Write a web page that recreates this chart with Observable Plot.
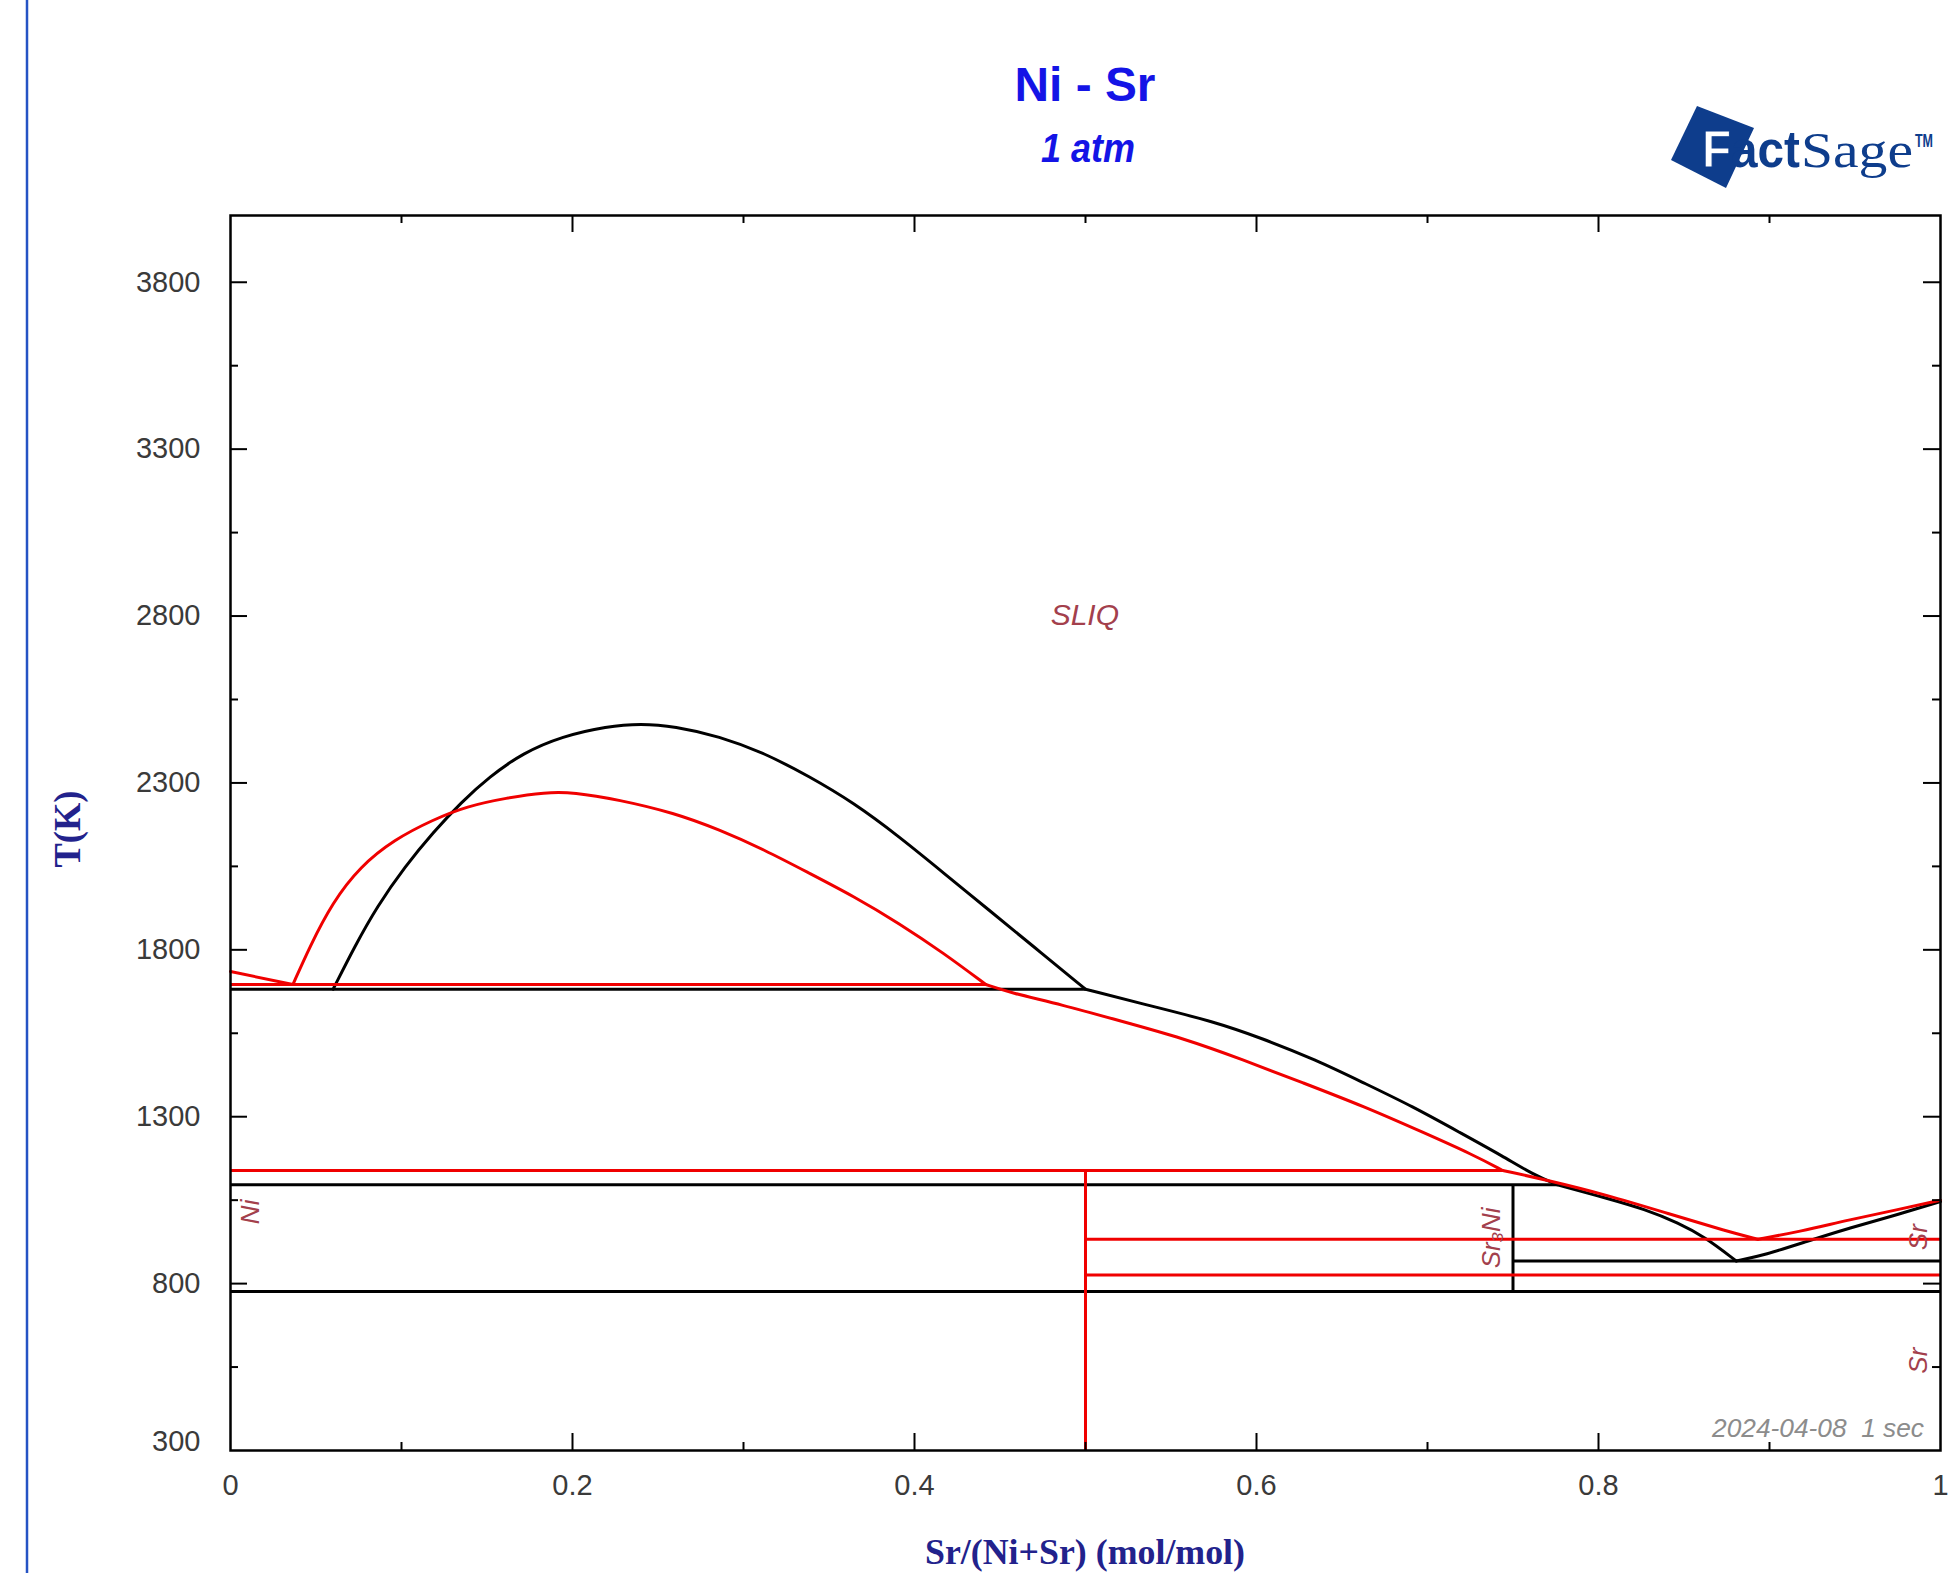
<!DOCTYPE html>
<html>
<head>
<meta charset="utf-8">
<script src="https://cdn.jsdelivr.net/npm/d3@7"></script>
<script src="https://cdn.jsdelivr.net/npm/@observablehq/plot@0.6"></script>
<style>
html, body { margin: 0; padding: 0; background: #fff; }
#wrap { position: relative; width: 1959px; height: 1573px; overflow: hidden; background: #fff; }
#chart { position: absolute; left: 0; top: 0; }
#overlay { position: absolute; left: 0; top: 0; pointer-events: none; }
</style>
</head>
<body>
<div id="wrap">
  <div id="chart"></div>
  <svg id="overlay" width="1959" height="1573" font-family="'Liberation Sans', Arial, sans-serif">
    <line x1="27" y1="0" x2="27" y2="1573" stroke="#2553c4" stroke-width="2.5"/>
    <text x="1085" y="101" text-anchor="middle" font-size="48" font-weight="bold" fill="#1414e6" textLength="141" lengthAdjust="spacingAndGlyphs">Ni - Sr</text>
    <text x="1088" y="162" text-anchor="middle" font-size="40" font-weight="bold" font-style="italic" fill="#1414e6" textLength="94" lengthAdjust="spacingAndGlyphs">1 atm</text>
    <g fill="#0e3d8c">
      <polygon points="1671,160 1697,106 1754,128 1726,188"/>
      <text x="1702" y="167" font-size="52" font-weight="bold" textLength="98" lengthAdjust="spacingAndGlyphs"><tspan fill="#ffffff" stroke="#0e3d8c" stroke-width="1">F</tspan><tspan>act</tspan></text>
      <text x="1801" y="167" font-size="50" font-family="'Liberation Serif', serif" textLength="112" lengthAdjust="spacingAndGlyphs">Sage</text>
      <text x="1915" y="147" font-size="19" font-weight="bold" textLength="18" lengthAdjust="spacingAndGlyphs">TM</text>
    </g>
    <text transform="translate(80,829) rotate(-90)" text-anchor="middle" font-family="'Liberation Serif', 'Times New Roman', serif" font-weight="bold" font-size="37" fill="#22228c" textLength="77" lengthAdjust="spacingAndGlyphs">T(K)</text>
    <text x="1085" y="1564" text-anchor="middle" font-family="'Liberation Serif', 'Times New Roman', serif" font-weight="bold" font-size="36" fill="#22228c" textLength="320" lengthAdjust="spacingAndGlyphs">Sr/(Ni+Sr) (mol/mol)</text>
    <text x="1924" y="1437" text-anchor="end" font-size="25" font-style="italic" fill="#8c8c8c" style="white-space:pre" textLength="212" lengthAdjust="spacingAndGlyphs">2024-04-08  1 sec</text>
  </svg>
</div>
<script>
// ---------- data (x = Sr/(Ni+Sr) mole fraction, T in K) ----------
const xLabelTicks = [0, 0.2, 0.4, 0.6, 0.8, 1];
const xMajorTicks = [0.2, 0.4, 0.6, 0.8];
const xMinorTicks = [0.1, 0.3, 0.5, 0.7, 0.9];
const yLabelTicks = [800, 1300, 1800, 2300, 2800, 3300, 3800];
const yBottomLabel = [300];
const yMajorTicks = [800, 1300, 1800, 2300, 2800, 3300, 3800];
const yMinorTicks = [550, 1050, 1550, 2050, 2550, 3050, 3550];

// black (calculated) curves
const blackDome = [[0.0600,1682],[0.0726,1810],[0.0857,1930],[0.1021,2050],[0.1185,2152],[0.1349,2242],[0.1513,2318],[0.1710,2390],[0.1940,2440],[0.2202,2470],[0.2400,2478],[0.2596,2470],[0.2858,2440],[0.3121,2390],[0.3383,2320],[0.3646,2240],[0.3908,2140],[0.4171,2030],[0.4433,1920],[0.4696,1810],[0.5000,1682]];
const blackLiqA = [[0.5000,1682],[0.5388,1631],[0.5743,1586],[0.6026,1536],[0.6345,1471],[0.6628,1401],[0.6912,1331],[0.7195,1251],[0.7443,1181],[0.7620,1126],[0.7760,1096]];
const blackLiqB = [[0.7760,1096],[0.8046,1056],[0.8270,1023],[0.8471,981],[0.8620,940],[0.8805,868]];
const blackLiqC = [[0.8805,868],[0.8974,886],[0.9216,926],[0.9463,966],[0.9711,1001],[1.0000,1046]];
// [x1, x2, T]
const blackIsotherms = [[0,0.5,1682],[0,0.776,1096],[0.75,1,868],[0,1,776]];
// [x, T1, T2]
const blackCompounds = [[0.75,776,1096]];

// red (reference) curves
const redNiSide = [[0,1735],[0.0365,1696]];
const redDome = [[0.0365,1696],[0.0464,1810],[0.0595,1941],[0.0759,2050],[0.0956,2130],[0.1185,2190],[0.1382,2230],[0.1612,2255],[0.1842,2272],[0.2005,2272],[0.2268,2250],[0.2596,2210],[0.2858,2160],[0.3121,2100],[0.3383,2030],[0.3646,1960],[0.3908,1880],[0.4171,1790],[0.4417,1696]];
const redLiqA = [[0.4417,1696],[0.4564,1671],[0.4857,1636],[0.5211,1586],[0.5565,1536],[0.5920,1471],[0.6274,1401],[0.6628,1331],[0.6983,1251],[0.7266,1186],[0.7440,1139]];
const redLiqB = [[0.7440,1139],[0.7692,1111],[0.8046,1066],[0.8400,1011],[0.8755,956],[0.8932,933]];
const redLiqC = [[0.8932,933],[0.9180,956],[0.9463,991],[0.9747,1021],[1.0000,1050]];
const redIsotherms = [[0,0.4417,1696],[0,0.744,1139],[0.5,1,933],[0.5,1,826]];
const redCompounds = [[0.5,300,1139]];

// phase labels
const phaseLabels = [
  {label: "Ni", x: 0.0118, T: 1015},
  {label: "Sr₃Ni", x: 0.7374, T: 937},
  {label: "Sr", x: 0.9870, T: 939},
  {label: "Sr", x: 0.9870, T: 569}
];
const liquidLabels = [{label: "SLIQ", x: 0.4996, T: 2802}];

// ---------- chart ----------
const W = 1959, H = 1573;
const mL = 230, mR = 19, mT = 215, mB = 123;
const plotW = W - mL - mR, plotH = H - mT - mB;
const majorLen = 17, minorLen = 8;
const RED = "#f00000";
const LBL = "#a3404c";
const TICKC = "#3a3a3a";

const curveMark = (data, stroke) => Plot.line(data, {x: d => d[0], y: d => d[1], stroke, strokeWidth: 3, curve: "basis"});

const chart = Plot.plot({
  width: W, height: H,
  marginLeft: mL, marginRight: mR, marginTop: mT, marginBottom: mB,
  x: {domain: [0, 1]},
  y: {domain: [300, 4000]},
  style: {fontFamily: "'Liberation Sans', Arial, sans-serif", fontSize: "29px", background: "transparent", overflow: "visible"},
  marks: [
    // black phase boundaries
    Plot.ruleY(blackIsotherms, {y: d => d[2], x1: d => d[0], x2: d => d[1], stroke: "black", strokeWidth: 3}),
    Plot.ruleX(blackCompounds, {x: d => d[0], y1: d => d[1], y2: d => d[2], stroke: "black", strokeWidth: 3}),
    curveMark(blackDome, "black"),
    curveMark(blackLiqA, "black"),
    curveMark(blackLiqB, "black"),
    curveMark(blackLiqC, "black"),
    // red phase boundaries
    Plot.ruleY(redIsotherms, {y: d => d[2], x1: d => d[0], x2: d => d[1], stroke: RED, strokeWidth: 3}),
    Plot.ruleX(redCompounds, {x: d => d[0], y1: d => d[1], y2: d => d[2], stroke: RED, strokeWidth: 3}),
    curveMark(redNiSide, RED),
    curveMark(redDome, RED),
    curveMark(redLiqA, RED),
    curveMark(redLiqB, RED),
    curveMark(redLiqC, RED),
    // labels
    Plot.text(phaseLabels, {x: "x", y: "T", text: "label", rotate: -90, fontSize: 26, fontStyle: "italic", fill: LBL}),
    Plot.text(liquidLabels, {x: "x", y: "T", text: "label", fontSize: 30, fontStyle: "italic", fill: LBL}),
    // inward ticks
    Plot.tickX(xMajorTicks, {x: d => d, insetTop: plotH - majorLen, stroke: "black", strokeWidth: 2}),
    Plot.tickX(xMinorTicks, {x: d => d, insetTop: plotH - minorLen, stroke: "black", strokeWidth: 2}),
    Plot.tickX(xMajorTicks, {x: d => d, insetBottom: plotH - majorLen, stroke: "black", strokeWidth: 2}),
    Plot.tickX(xMinorTicks, {x: d => d, insetBottom: plotH - minorLen, stroke: "black", strokeWidth: 2}),
    Plot.tickY(yMajorTicks, {y: d => d, insetRight: plotW - majorLen, stroke: "black", strokeWidth: 2}),
    Plot.tickY(yMinorTicks, {y: d => d, insetRight: plotW - minorLen, stroke: "black", strokeWidth: 2}),
    Plot.tickY(yMajorTicks, {y: d => d, insetLeft: plotW - majorLen, stroke: "black", strokeWidth: 2}),
    Plot.tickY(yMinorTicks, {y: d => d, insetLeft: plotW - minorLen, stroke: "black", strokeWidth: 2}),
    // tick labels
    Plot.axisX({ticks: xLabelTicks, tickSize: 0, tickPadding: 24, tickFormat: d => String(d), label: null, fontSize: 29, color: TICKC}),
    Plot.axisY({ticks: yLabelTicks, tickSize: 0, tickPadding: 30, tickFormat: d => String(d), label: null, fontSize: 29, color: TICKC}),
    Plot.axisY({ticks: yBottomLabel, tickSize: 0, tickPadding: 30, dy: -9, tickFormat: d => String(d), label: null, fontSize: 29, color: TICKC}),
    Plot.frame({stroke: "black", strokeWidth: 2.5})
  ]
});
document.getElementById("chart").appendChild(chart);
</script>
</body>
</html>
